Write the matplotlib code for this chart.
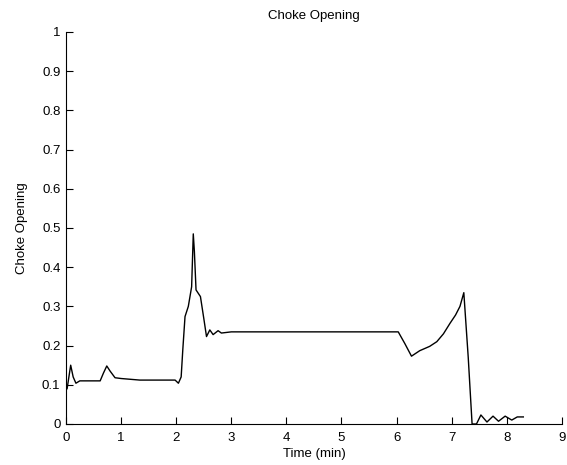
import matplotlib.pyplot as plt

# choke opening vs time
time_min = [0.0, 0.02, 0.085, 0.13, 0.18, 0.25, 0.4, 0.62, 0.68, 0.74, 0.8, 0.89, 1.0, 1.34,
            1.98, 2.04, 2.09, 2.12, 2.16, 2.22, 2.28, 2.30, 2.31, 2.33, 2.36, 2.44, 2.50, 2.55, 2.61, 2.67,
            2.76, 2.82, 3.0, 4.0, 5.0, 6.03, 6.15, 6.27, 6.42, 6.6, 6.73, 6.85, 6.97, 7.07,
            7.15, 7.22, 7.3, 7.37, 7.45, 7.53, 7.64, 7.75, 7.85, 7.97, 8.09, 8.19, 8.3]
choke = [0.087, 0.09, 0.15, 0.12, 0.104, 0.11, 0.11, 0.11, 0.13, 0.148, 0.135, 0.118, 0.116, 0.112,
         0.112, 0.104, 0.12, 0.19, 0.274, 0.30, 0.35, 0.44, 0.485, 0.44, 0.342, 0.325, 0.27, 0.223, 0.24, 0.228,
         0.238, 0.232, 0.235, 0.235, 0.235, 0.235, 0.205, 0.173, 0.187, 0.198, 0.21, 0.23, 0.257, 0.278,
         0.30, 0.335, 0.17, 0.0, 0.0, 0.023, 0.005, 0.02, 0.007, 0.02, 0.01, 0.018, 0.018]

plt.rcParams['font.family'] = ['Liberation Sans', 'DejaVu Sans']

fig = plt.figure(figsize=(5.67, 4.65), dpi=100)
ax = fig.add_axes([0.1164, 0.0882, 0.8746, 0.843])

ax.plot(time_min, choke, color='black', lw=1)

ax.set_xlim(0, 9)
ax.set_ylim(0, 1)
ax.set_xticks(range(10))
ax.set_yticks([i / 10 for i in range(11)])
ax.set_yticklabels(['0'] + ['0.%d' % i for i in range(1, 10)] + ['1'])

ax.spines['top'].set_visible(False)
ax.spines['right'].set_visible(False)
ax.tick_params(direction='in', length=5, labelsize=9.5)
ax.tick_params(axis='x', pad=6)
ax.tick_params(axis='y', pad=4)

ax.set_title('Choke Opening', fontsize=9.5, pad=9)
ax.set_xlabel('Time (min)', fontsize=9.5, labelpad=3)
ax.set_ylabel('Choke Opening', fontsize=9.5, labelpad=10)

fig.savefig('out.png', dpi=100)
